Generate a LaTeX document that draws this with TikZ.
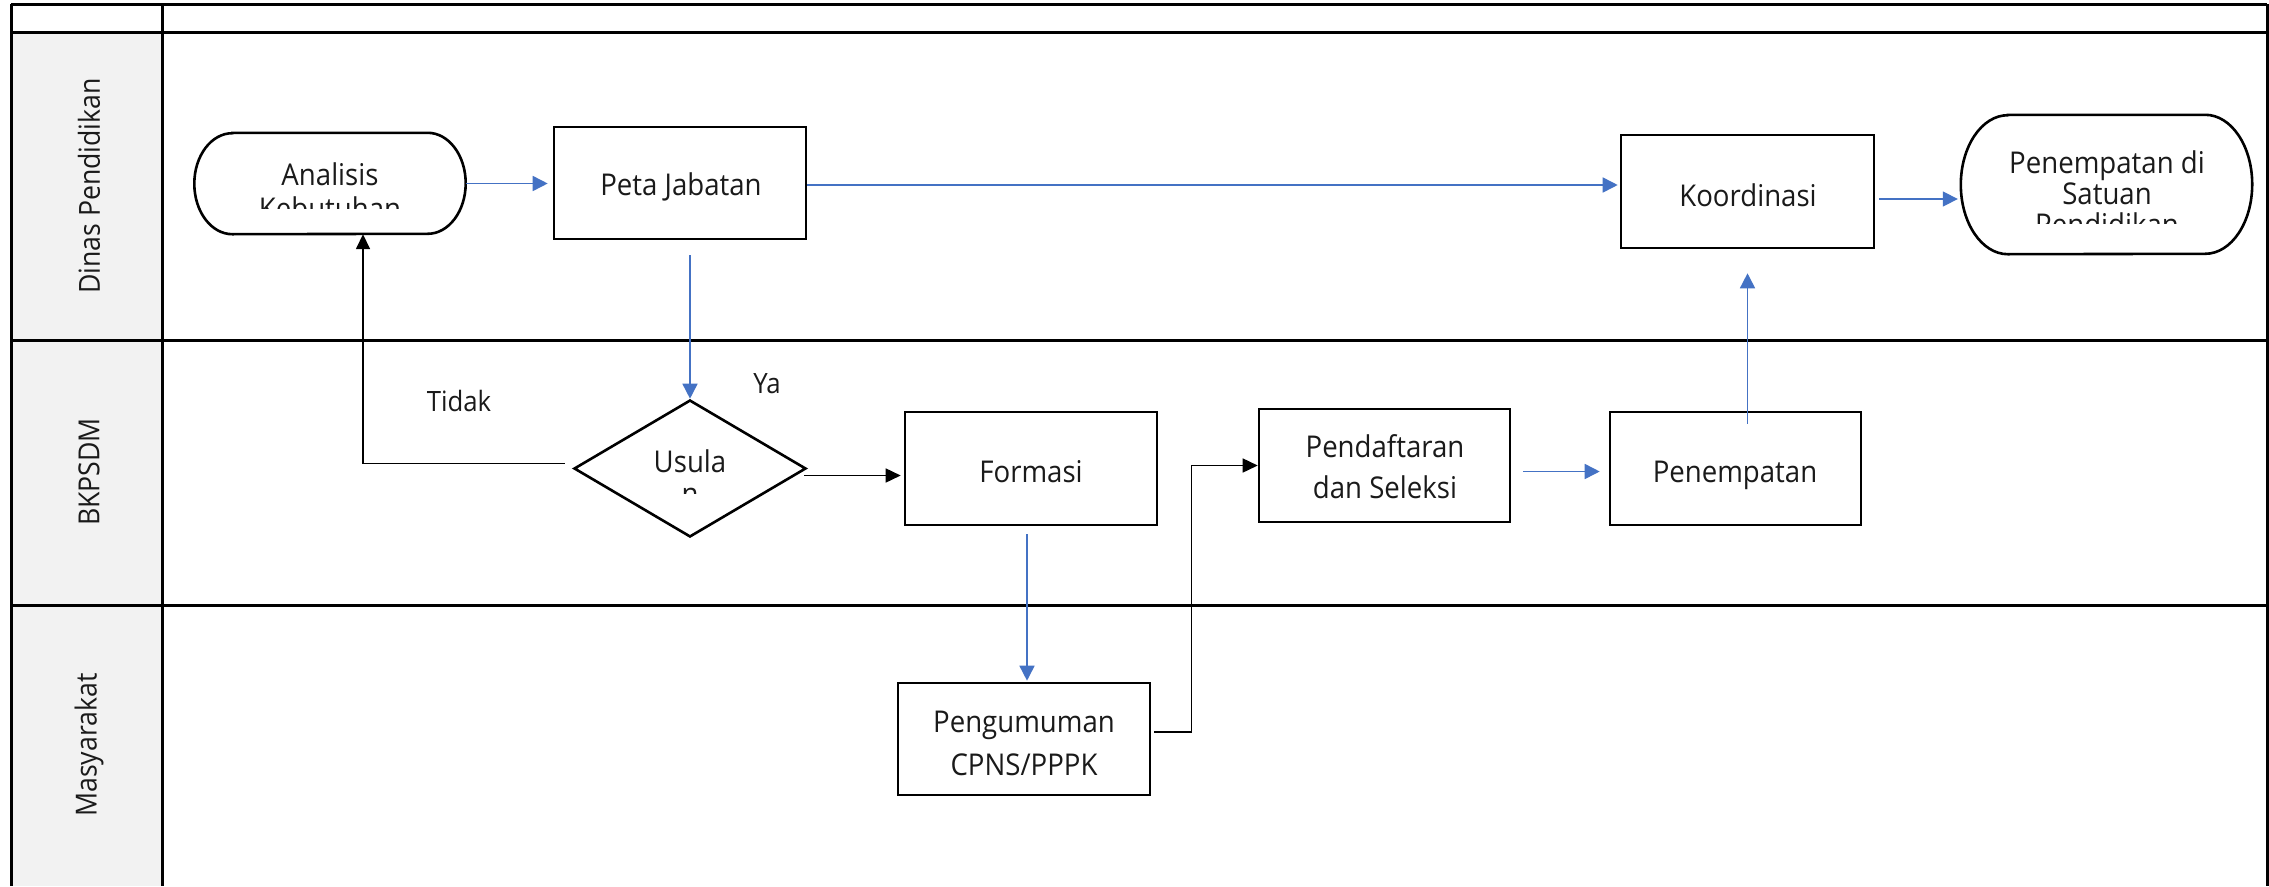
\documentclass[tikz,border=0pt]{standalone}
\usepackage{fontspec}
\setmainfont{Open Sans}[FakeStretch=0.92]
\usetikzlibrary{arrows.meta,calc,shapes.geometric}
\definecolor{cblue}{HTML}{4472C4}
\definecolor{lanegray}{HTML}{F2F2F2}
\definecolor{txtc}{HTML}{1A1A1A}
\tikzset{
  laneline/.style={line width=3pt, draw=black},
  boxnode/.style={draw=black, line width=2.6pt, rectangle, inner sep=0pt},
  frame/.style={rectangle, inner sep=0pt, draw=none},
  shapeline/.style={draw=black, line width=2.6pt},
  dianode/.style={draw=black, line width=2.6pt, diamond, inner sep=0pt},
  txt/.style={font=\fontsize{30}{34}\selectfont, text=txtc, inner sep=0pt, anchor=base, align=center},
  lanetxt/.style={font=\fontsize{29}{34}\selectfont, text=txtc, inner sep=0pt, rotate=90},
  barrow/.style={draw=cblue, line width=1.6pt, -{Triangle[length=15pt,width=15pt]}},
  karrow/.style={draw=black, line width=1.6pt, -{Triangle[length=15pt,width=14pt]}},
}
\begin{document}
\begin{tikzpicture}[x=1pt,y=-1pt]
\useasboundingbox (0,0) rectangle (2269,886);
\fill[white] (0,0) rectangle (2269,886);
% swimlane grid
\fill[lanegray] (11,32) rectangle (162,886);
\draw[laneline] (11,4) -- (2267,4);
\draw[laneline] (11,32) -- (2267,32);
\draw[laneline] (11,340) -- (2267,340);
\draw[laneline] (11,605) -- (2267,605);
\draw[laneline] (11,4) -- (11,886);
\draw[laneline] (162,4) -- (162,886);
\draw[laneline] (2267,4) -- (2267,886);
\node[lanetxt] (l1) at (89,186) {Dinas Pendidikan};
\node[lanetxt] (l2) at (89,472) {BKPSDM};
\node[lanetxt] (l3) at (89,745) {Masyarakat};

% shapes
\node[frame, minimum width=271pt, minimum height=101pt] (ak) at (330,183.5) {};
\draw[shapeline] ([xshift=38pt]ak.north west) -- ([xshift=-38pt]ak.north east)
  arc[start angle=90,end angle=-90,x radius=38pt,y radius=50.5pt]
  -- ([xshift=38pt]ak.south west)
  arc[start angle=270,end angle=90,x radius=38pt,y radius=50.5pt] -- cycle;
\node[frame, minimum width=291pt, minimum height=139pt] (ps) at (2106.5,184.5) {};
\draw[shapeline] ([xshift=47pt]ps.north west) -- ([xshift=-47pt]ps.north east)
  arc[start angle=90,end angle=-90,x radius=47pt,y radius=69.5pt]
  -- ([xshift=47pt]ps.south west)
  arc[start angle=270,end angle=90,x radius=47pt,y radius=69.5pt] -- cycle;
\node[boxnode, minimum width=252pt, minimum height=112pt] (pj) at (680,183) {};
\node[boxnode, minimum width=253pt, minimum height=113pt] (ko) at (1747.5,191.5) {};
\node[dianode, minimum width=232pt, minimum height=137pt] (us) at (690,468.5) {};
\node[boxnode, minimum width=252pt, minimum height=113pt] (fo) at (1031,468.5) {};
\node[boxnode, minimum width=251pt, minimum height=113pt] (pd) at (1384.5,465.5) {};
\node[boxnode, minimum width=251pt, minimum height=113pt] (pn) at (1735.5,468.5) {};
\node[boxnode, minimum width=252pt, minimum height=112pt] (pg) at (1024,739) {};

% texts (base anchor = baseline of the last line)
\begin{scope}
\clip (194,100) rectangle (466,208);
\node[txt] (ak-t) at (330,219) {Analisis\\Kebutuhan};
\end{scope}
\begin{scope}
\clip (1961,100) rectangle (2252,223);
\node[txt, font=\fontsize{30}{31}\selectfont] (ps-t) at (2107,235) {Penempatan di\\Satuan\\Pendidikan};
\end{scope}
\begin{scope}
\clip (573,400) rectangle (806,493);
\node[txt, font=\fontsize{30}{32}\selectfont] (us-t) at (690,504) {Usula\\n};
\end{scope}
\node[txt] (pj-t) at (681,195) {Peta Jabatan};
\node[txt] (ko-t) at (1748,206) {Koordinasi};
\node[txt] (fo-t) at (1031,482) {Formasi};
\node[txt] (pn-t) at (1735,482) {Penempatan};
\node[txt, font=\fontsize{30}{41}\selectfont] (pd-t) at (1385,498) {Pendaftaran\\dan Seleksi};
\node[txt, font=\fontsize{30}{43}\selectfont] (pg-t) at (1024,775) {Pengumuman\\CPNS/PPPK};
\node[txt, font=\fontsize{28}{32}\selectfont] (tidak) at (459,411) {Tidak};
\node[txt, font=\fontsize{28}{32}\selectfont] (ya) at (767,393) {Ya};

% connectors
\draw[barrow, shorten >=5pt] (ak.east) -- (ak.east -| pj.west);
\coordinate (c2) at ([yshift=-2pt]pj.east);
\draw[barrow, shorten >=2pt] (c2) -- (c2 -| ko.west);
\draw[barrow, shorten <=15pt] (us.north |- pj.south) -- (us.north);
\draw[karrow] ([xshift=-8pt,yshift=5pt]us.west) -| ([xshift=33pt]ak.south);
\coordinate (c5) at ([xshift=-3pt,yshift=-7pt]us.east);
\draw[karrow, shorten >=3pt] (c5) -- (c5 -| fo.west);
\coordinate (c6) at ([xshift=-4pt]fo.south);
\draw[barrow, shorten <=8pt, shorten >=1pt] (c6) -- (c6 |- pg.north);
\draw[karrow] ([xshift=3pt,yshift=7pt]pg.east) -- ++(37,0) |- (pd.west);
\coordinate (c8) at ([xshift=12pt,yshift=-6pt]pd.east);
\draw[barrow, shorten >=9pt] (c8) -- (c8 -| pn.west);
\coordinate (c9) at ([xshift=12pt,yshift=-13pt]pn.north);
\draw[barrow, shorten >=24pt] (c9) -- (c9 |- ko.south);
\coordinate (c10) at ([xshift=4pt,yshift=-7.5pt]ko.east);
\draw[barrow, shorten >=3pt] (c10) -- (c10 -| ps.west);
\end{tikzpicture}
\end{document}
